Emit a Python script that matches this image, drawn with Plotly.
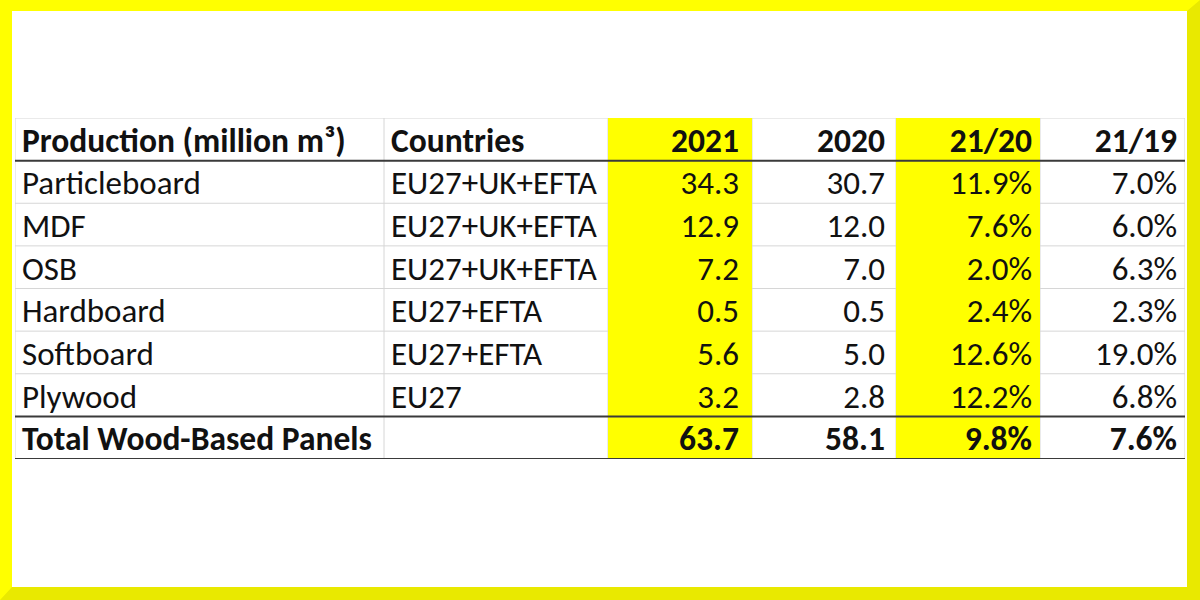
import plotly.graph_objects as go

# ---------------- data ----------------
headers = ["Production (million m³)", "Countries", "2021", "2020", "21/20", "21/19"]
products = ["Particleboard", "MDF", "OSB", "Hardboard", "Softboard", "Plywood"]
countries = ["EU27+UK+EFTA", "EU27+UK+EFTA", "EU27+UK+EFTA", "EU27+EFTA", "EU27+EFTA", "EU27"]
prod_2021 = [34.3, 12.9, 7.2, 0.5, 5.6, 3.2]
prod_2020 = [30.7, 12.0, 7.0, 0.5, 5.0, 2.8]
chg_21_20 = [11.9, 7.6, 2.0, 2.4, 12.6, 12.2]
chg_21_19 = [7.0, 6.0, 6.3, 2.3, 19.0, 6.8]
total_label = "Total Wood-Based Panels"
total_2021 = 63.7
total_2020 = 58.1
total_21_20 = 9.8
total_21_19 = 7.6

# ---------------- layout / style ----------------
W, H = 1200, 600
col_widths = [369, 224, 144, 144, 144, 145]
col_align = ["left", "left", "right", "right", "right", "right"]
col_pad = [7, 7, 13, 11, 8, 8]
highlight_cols = [2, 4]
margin_l, margin_r, margin_t, margin_b = 15, 15, 118, 141
FONT = "Carlito, Lato, sans-serif"
FSIZE = 33
FSIZE_BOLD = 33.5
TEXT_DROP = 0.1  # fraction of a row the text sits below the row centre
TXT = "#111111"
YELLOW = "#ffff00"
YELLOW_DARK = "#e9e900"
GRID = "#d6d6d6"
RULE = "#3a3a3a"

edges = [0]
for w in col_widths:
    edges.append(edges[-1] + w)
table_w = edges[-1]

# table content as columns of strings
body_cols = [
    products,
    countries,
    [f"{v:.1f}" for v in prod_2021],
    [f"{v:.1f}" for v in prod_2020],
    [f"{v:.1f}%" for v in chg_21_20],
    [f"{v:.1f}%" for v in chg_21_19],
]
total_row = [total_label, "", f"{total_2021:.1f}", f"{total_2020:.1f}",
             f"{total_21_20:.1f}%", f"{total_21_19:.1f}%"]
n_body = len(products)
n_rows = n_body + 2  # header + body + total

fig = go.Figure()


def text_x(c):
    if col_align[c] == "left":
        return edges[c] + col_pad[c]
    return edges[c + 1] - col_pad[c]


def add_row_texts(cells, rows, bold):
    for c in range(len(col_widths)):
        xs, ys, ts = [], [], []
        for r, t in zip(rows, cells[c]):
            if t == "":
                continue
            xs.append(text_x(c))
            ys.append(r + 0.5 + TEXT_DROP)
            ts.append(t)
        fig.add_trace(go.Scatter(
            x=xs, y=ys, text=ts, mode="text",
            textposition="middle right" if col_align[c] == "left" else "middle left",
            textfont=dict(family=FONT, size=FSIZE_BOLD if bold else FSIZE, color=TXT,
                          weight="bold" if bold else "normal"),
            hoverinfo="skip", showlegend=False, cliponaxis=False,
        ))


# header
add_row_texts([[h] for h in headers], [0], True)
# body
add_row_texts(body_cols, list(range(1, n_body + 1)), False)
# total
add_row_texts([[t] for t in total_row], [n_rows - 1], True)

shapes = []


def px_x(p):
    return (p - margin_l) / (W - margin_l - margin_r)


def px_y(p):
    return (H - margin_b - p) / (H - margin_t - margin_b)


# outer frame: bevel (darker right/bottom) then white canvas
shapes.append(dict(
    type="path", xref="paper", yref="paper", layer="below",
    path=(f"M {px_x(1187)},{px_y(11)} L {px_x(1200)},{px_y(0)} L {px_x(1200)},{px_y(600)} "
          f"L {px_x(0)},{px_y(600)} L {px_x(12)},{px_y(587)} L {px_x(1187)},{px_y(587)} Z"),
    fillcolor=YELLOW_DARK, line=dict(width=0)))
shapes.append(dict(
    type="rect", xref="paper", yref="paper", layer="below",
    x0=px_x(12), x1=px_x(1187), y0=px_y(587), y1=px_y(11),
    fillcolor="white", line=dict(width=0)))

# light grid
thick_rows = [1, n_rows - 1, n_rows]
for r in range(n_rows + 1):
    if r in thick_rows:
        continue
    shapes.append(dict(type="line", xref="x", yref="y", layer="below",
                       x0=0, x1=table_w, y0=r, y1=r,
                       line=dict(color=GRID, width=1)))
for e in edges:
    shapes.append(dict(type="line", xref="x", yref="y", layer="below",
                       x0=e, x1=e, y0=0, y1=n_rows,
                       line=dict(color=GRID, width=1)))

# highlighted columns
for c in highlight_cols:
    shapes.append(dict(type="rect", xref="x", yref="y", layer="below",
                       x0=edges[c], x1=edges[c + 1], y0=0, y1=n_rows,
                       fillcolor=YELLOW, line=dict(width=0)))

# dark rules
for r in thick_rows:
    shapes.append(dict(type="line", xref="x", yref="y", layer="below",
                       x0=0, x1=table_w, y0=r, y1=r,
                       line=dict(color=RULE, width=2)))

fig.update_layout(
    width=W, height=H, autosize=False,
    margin=dict(l=margin_l, r=margin_r, t=margin_t, b=margin_b, pad=0),
    paper_bgcolor=YELLOW, plot_bgcolor="white",
    xaxis=dict(range=[0, table_w], visible=False, fixedrange=True),
    yaxis=dict(range=[n_rows, 0], visible=False, fixedrange=True),
    shapes=shapes,
    showlegend=False,
)

fig.write_html(
    "out.html",
    config={"displayModeBar": False},
    post_script="document.body.style.margin='0';document.body.style.overflow='hidden';",
)
